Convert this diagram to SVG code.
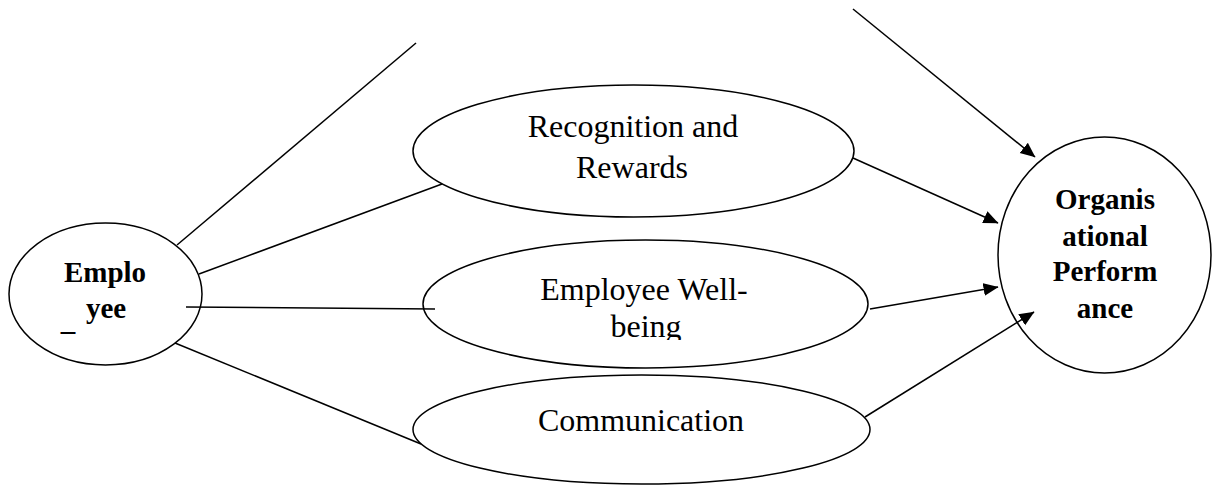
<svg xmlns="http://www.w3.org/2000/svg" width="1212" height="485" viewBox="0 0 1212 485">
  <style>
    .node { fill: none; stroke: #000000; stroke-width: 1.5; }
    .edge { fill: none; stroke: #000000; stroke-width: 1.5; }
    .lbl { font-family: "Liberation Serif", "Times New Roman", serif; font-size: 32px; fill: #000000; text-anchor: middle; }
    .bold { font-family: "Liberation Serif", "Times New Roman", serif; font-size: 29px; font-weight: bold; fill: #000000; text-anchor: middle; }
  </style>
  <defs>
    <marker id="arrow" markerUnits="userSpaceOnUse" markerWidth="16" markerHeight="14" refX="14.5" refY="6.5" orient="auto">
      <path d="M0,0 L15,6.5 L0,13 Z" fill="#000000"/>
    </marker>
    <clipPath id="wellbeing-clip">
      <rect x="400" y="230" width="500" height="110"/>
    </clipPath>
  </defs>
  <rect width="1212" height="485" fill="#ffffff"/>

  <g id="employee">
    <ellipse class="node" cx="105.5" cy="294" rx="96.5" ry="71"/>
    <text class="bold" x="105" y="282">Emplo</text>
    <text class="bold" x="106" y="318">yee</text>
    <text class="bold" x="68" y="330">_</text>
  </g>

  <g id="recognition">
    <ellipse class="node" cx="633.5" cy="151" rx="220.5" ry="66"/>
    <text class="lbl" x="633" y="137">Recognition and</text>
    <text class="lbl" x="632" y="178">Rewards</text>
  </g>

  <g id="wellbeing">
    <ellipse class="node" cx="645.5" cy="304" rx="222.5" ry="64"/>
    <g clip-path="url(#wellbeing-clip)">
      <text class="lbl" x="644" y="300">Employee Well-</text>
      <text class="lbl" x="646" y="337">being</text>
    </g>
  </g>

  <g id="communication">
    <ellipse class="node" cx="641.5" cy="429.5" rx="228.5" ry="54.5"/>
    <text class="lbl" x="641" y="431">Communication</text>
  </g>

  <g id="performance">
    <ellipse class="node" cx="1104.5" cy="255" rx="106.5" ry="118"/>
    <text class="bold" x="1105" y="209">Organis</text>
    <text class="bold" x="1105" y="246">ational</text>
    <text class="bold" x="1105" y="281">Perform</text>
    <text class="bold" x="1105" y="318">ance</text>
  </g>

  <!-- connectors, drawn over the node outlines -->
  <g id="connectors">
    <line class="edge" x1="177" y1="245" x2="416" y2="43"/>
    <line class="edge" x1="199" y1="274" x2="442" y2="184"/>
    <line class="edge" x1="186" y1="307" x2="435" y2="309"/>
    <line class="edge" x1="175" y1="343" x2="421" y2="444"/>
    <line class="edge" x1="853" y1="9" x2="1035" y2="157" marker-end="url(#arrow)"/>
    <line class="edge" x1="853" y1="158" x2="998" y2="223" marker-end="url(#arrow)"/>
    <line class="edge" x1="870" y1="309" x2="998" y2="287" marker-end="url(#arrow)"/>
    <line class="edge" x1="865" y1="417" x2="1034" y2="312" marker-end="url(#arrow)"/>
  </g>
</svg>
